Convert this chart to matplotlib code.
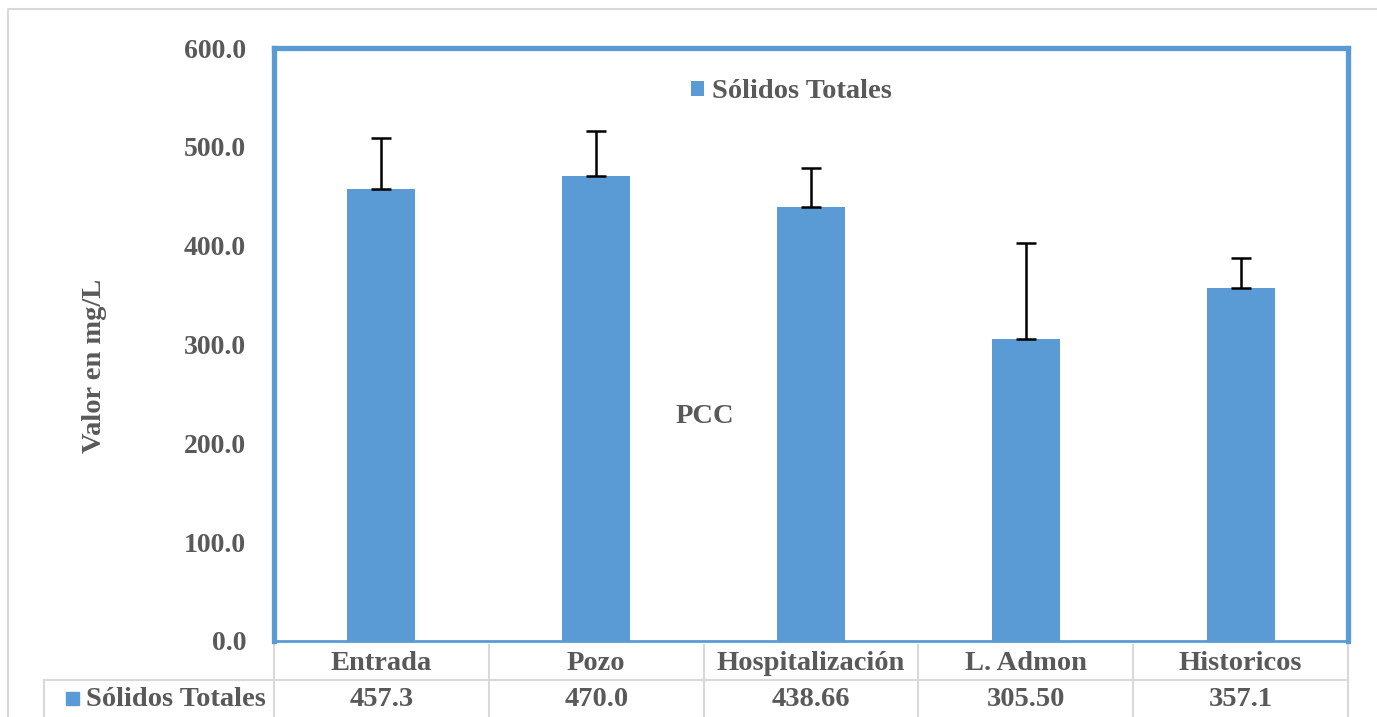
import numpy as np
import matplotlib
matplotlib.use("Agg")
import matplotlib.pyplot as plt
from matplotlib.lines import Line2D
from matplotlib.patches import Rectangle
import matplotlib.transforms as mtransforms

categorias = ["Entrada", "Pozo", "Hospitalización", "L. Admon", "Historicos"]
valores = [457.3, 470.0, 438.66, 305.50, 357.1]
etiquetas_valor = ["457.3", "470.0", "438.66", "305.50", "357.1"]
error_sup = [52, 46, 40, 97, 30]
serie = "Sólidos Totales"

azul = "#5B9BD5"
gris_txt = "#595959"
gris_lin = "#D9D9D9"
W, H = 1377, 717
fs = 20.5

plt.rcParams['font.family'] = ['Liberation Serif', 'DejaVu Serif']
plt.rcParams['font.weight'] = 'bold'

fig = plt.figure(figsize=(W / 100, H / 100), dpi=100)

# marco exterior gris
fig.add_artist(Line2D([8 / W, 8 / W, 1.01], [-0.01, 1 - 9 / H, 1 - 9 / H],
                      transform=fig.transFigure, color=gris_lin, lw=1.5))

x0, x1, y0, y1 = 274, 1348, 641, 48
ax = fig.add_axes([x0 / W, (H - y0) / H, (x1 - x0) / W, (y0 - y1) / H])

x = np.arange(len(categorias))
barras = ax.bar(x, valores, width=0.317, color=azul, label=serie, zorder=2)
ax.errorbar(x, valores, yerr=[np.zeros(len(valores)), error_sup], fmt='none',
            ecolor='black', elinewidth=1.8, capsize=7.5, capthick=1.8, zorder=3)

ax.set_xlim(-0.5, len(categorias) - 0.5)
ax.set_ylim(0, 600)
ax.set_yticks(np.arange(0, 601, 100))
ax.set_yticklabels([f"{v:.1f}" for v in np.arange(0, 601, 100)],
                   fontsize=20, color=gris_txt, fontweight='bold')
ax.tick_params(axis='y', length=0, pad=20)
ax.set_xticks([])
for s in ax.spines.values():
    s.set_color(azul)
    s.set_linewidth(3.8)
ax.spines['bottom'].set_linewidth(2)

ax.set_ylabel("Valor en mg/L", fontsize=fs, color=gris_txt, fontweight='bold')
ax.yaxis.set_label_coords(-(x0 - 107) / (x1 - x0), (y0 - 366) / (y0 - y1))

ax.text(0.401, 0.379, "PCC", transform=ax.transAxes, ha='center', va='center',
        fontsize=fs, color=gris_txt, fontweight='bold')

leg = ax.legend(loc='center', bbox_to_anchor=(0.482, 0.926), frameon=False,
                handlelength=0.45, handleheight=0.45, handletextpad=0.3,
                prop={'size': fs, 'weight': 'bold'})
for t in leg.get_texts():
    t.set_color(gris_txt)

# tabla de datos
px = 1 / (y0 - y1)
tr = mtransforms.blended_transform_factory(ax.transData, ax.transAxes)
y_fila = -(680 - y0) * px
y_fin = -(H + 5 - y0) * px
for b in np.arange(len(categorias) + 1) - 0.5:
    ax.plot([b, b], [-4 * px, y_fin], transform=tr, color=gris_lin, lw=1.5, clip_on=False)
ax.plot([-0.5 - 230 / 214.8, len(categorias) - 0.5], [y_fila, y_fila], transform=tr,
        color=gris_lin, lw=1.5, clip_on=False)
ax.plot([-0.5 - 230 / 214.8] * 2, [y_fila, y_fin], transform=tr,
        color=gris_lin, lw=1.5, clip_on=False)
for i, (c, v) in enumerate(zip(categorias, etiquetas_valor)):
    ax.text(i, -(663 - y0) * px, c, transform=tr, ha='center', va='center',
            fontsize=fs, color=gris_txt, fontweight='bold')
    ax.text(i, -(700 - y0) * px, v, transform=tr, ha='center', va='center',
            fontsize=fs, color=gris_txt, fontweight='bold')
ax.add_patch(Rectangle((-0.5 - 208 / 214.8, -(705 - y0) * px), 13 / 214.8, 13 * px,
                       transform=tr, color=azul, clip_on=False))
ax.text(-0.5 - 188 / 214.8, -(700 - y0) * px, serie, transform=tr, ha='left', va='center',
        fontsize=fs, color=gris_txt, fontweight='bold')

fig.savefig("out.png", dpi=100)
